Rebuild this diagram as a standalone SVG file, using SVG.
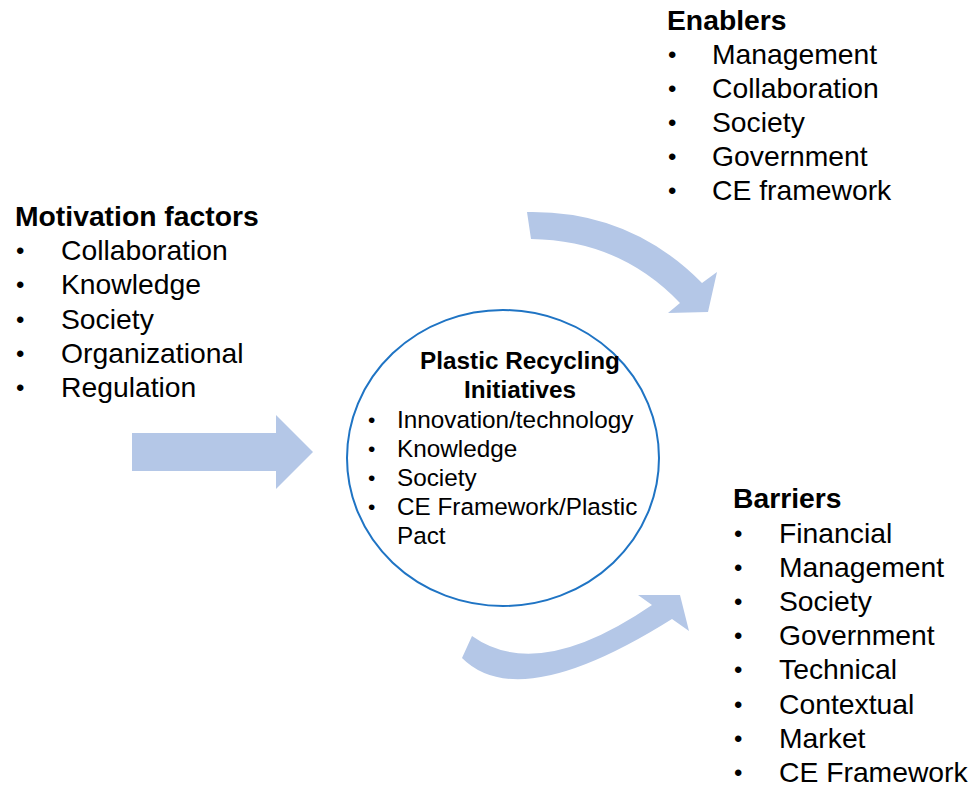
<svg xmlns="http://www.w3.org/2000/svg" width="976" height="788" viewBox="0 0 976 788">
  <style>
    text { font-family: "Liberation Sans", Arial, sans-serif; fill: #000; }
    .head { font-size: 28.3px; font-weight: bold; }
    .item { font-size: 28.3px; }
    .bullet { font-size: 24px; }
    .chead { font-size: 24.3px; font-weight: bold; text-anchor: middle; }
    .citem { font-size: 24.3px; }
    .cbullet { font-size: 21px; }
    .arrow { fill: #B4C7E7; stroke: none; }
  </style>
  <rect width="976" height="788" fill="#fff"/>

  <!-- block arrows linking the factor lists with the central topic -->
  <g id="connectors">
    <path class="arrow" d="M132,433 L276,433 L276,415 L313,452 L276,489 L276,471 L132,471 Z"/>
    <path class="arrow" d="M527,212 Q630,210 702,283 L717,272 L708,312 L668,313 L680,303 Q620,240 531,239 Z"/>
    <path class="arrow" d="M472,636 Q538,683 652,605 L638,595 L680,595 L689,631 L672,619 Q519,715 462,658 Z"/>
  </g>

  <!-- central topic -->
  <g id="initiatives">
    <ellipse cx="503" cy="458" rx="156" ry="148" fill="none" stroke="#1F74C4" stroke-width="2"/>
    <text class="chead" x="520" y="369">Plastic Recycling</text>
    <text class="chead" x="520" y="398">Initiatives</text>
    <text class="cbullet" x="368" y="427">•</text><text class="citem" x="397" y="428">Innovation/technology</text>
    <text class="cbullet" x="368" y="456">•</text><text class="citem" x="397" y="457">Knowledge</text>
    <text class="cbullet" x="368" y="485">•</text><text class="citem" x="397" y="486">Society</text>
    <text class="cbullet" x="368" y="514">•</text><text class="citem" x="397" y="515">CE Framework/Plastic</text>
    <text class="citem" x="397" y="544">Pact</text>
  </g>

  <!-- motivation factors -->
  <g id="motivation">
    <text class="head" x="15" y="226">Motivation factors</text>
    <text class="bullet" x="16" y="259">•</text><text class="item" x="61" y="260">Collaboration</text>
    <text class="bullet" x="16" y="293">•</text><text class="item" x="61" y="294">Knowledge</text>
    <text class="bullet" x="16" y="328">•</text><text class="item" x="61" y="329">Society</text>
    <text class="bullet" x="16" y="362">•</text><text class="item" x="61" y="363">Organizational</text>
    <text class="bullet" x="16" y="396">•</text><text class="item" x="61" y="397">Regulation</text>
  </g>

  <!-- enablers -->
  <g id="enablers">
    <text class="head" x="667" y="30">Enablers</text>
    <text class="bullet" x="668" y="63">•</text><text class="item" x="712" y="64">Management</text>
    <text class="bullet" x="668" y="97">•</text><text class="item" x="712" y="98">Collaboration</text>
    <text class="bullet" x="668" y="131">•</text><text class="item" x="712" y="132">Society</text>
    <text class="bullet" x="668" y="165">•</text><text class="item" x="712" y="166">Government</text>
    <text class="bullet" x="668" y="199">•</text><text class="item" x="712" y="200">CE framework</text>
  </g>

  <!-- barriers -->
  <g id="barriers">
    <text class="head" x="733" y="508">Barriers</text>
    <text class="bullet" x="734" y="542">•</text><text class="item" x="779" y="543">Financial</text>
    <text class="bullet" x="734" y="576">•</text><text class="item" x="779" y="577">Management</text>
    <text class="bullet" x="734" y="610">•</text><text class="item" x="779" y="611">Society</text>
    <text class="bullet" x="734" y="644">•</text><text class="item" x="779" y="645">Government</text>
    <text class="bullet" x="734" y="678">•</text><text class="item" x="779" y="679">Technical</text>
    <text class="bullet" x="734" y="713">•</text><text class="item" x="779" y="714">Contextual</text>
    <text class="bullet" x="734" y="747">•</text><text class="item" x="779" y="748">Market</text>
    <text class="bullet" x="734" y="781">•</text><text class="item" x="779" y="782">CE Framework</text>
  </g>
</svg>
